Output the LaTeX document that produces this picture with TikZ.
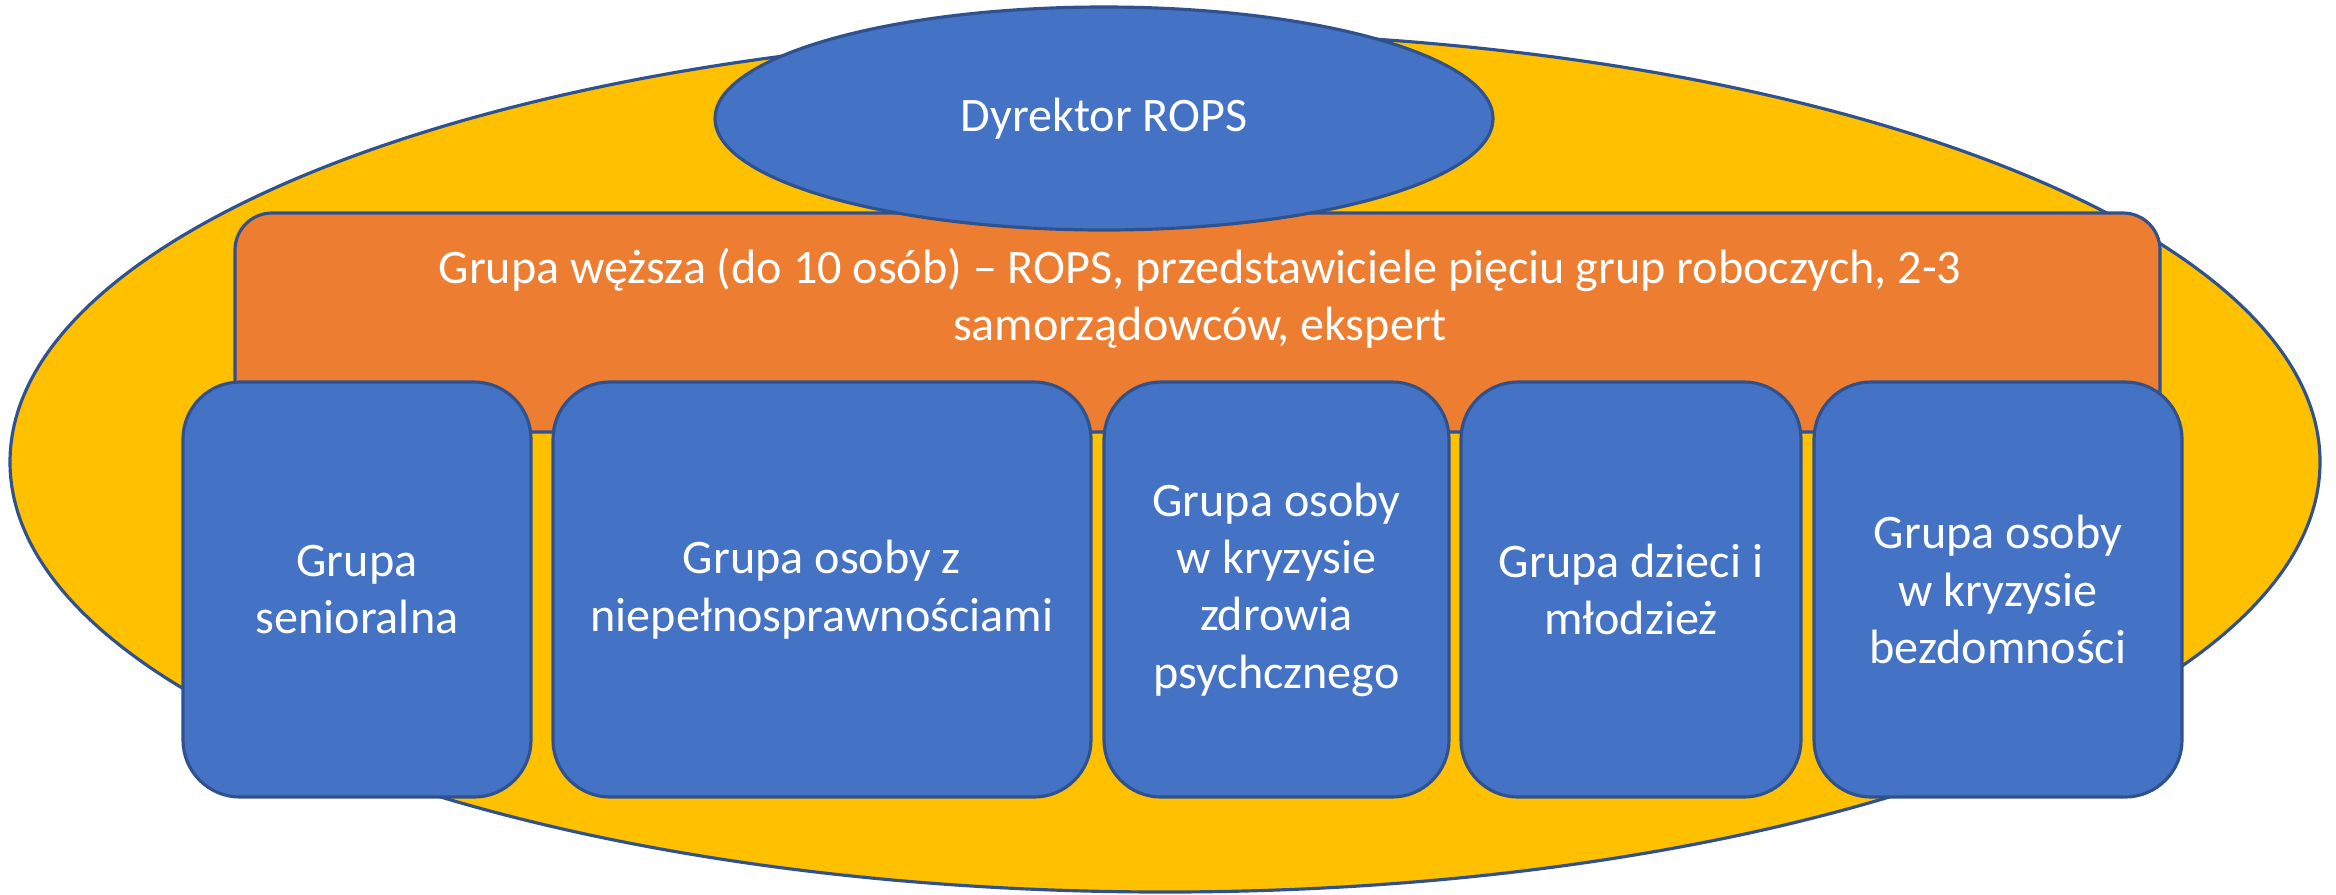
\documentclass[tikz,border=0pt]{standalone}
\usepackage{fontspec}
\setmainfont{Carlito}
\usetikzlibrary{shapes.geometric}

\definecolor{ropsyellow}{HTML}{FFC000}
\definecolor{ropsorange}{HTML}{ED7D31}
\definecolor{ropsblue}{HTML}{4472C4}
\definecolor{ropsline}{HTML}{2F528F}

\tikzstyle{every node}=[draw=ropsline, line width=0.9pt, text=white, align=center, inner sep=0pt,
  font=\fontsize{13.7}{16.3}\selectfont]
\tikzstyle{outer}=[ellipse, fill=ropsyellow, minimum width=23.1cm, minimum height=8.6cm]
\tikzstyle{head}=[ellipse, fill=ropsblue, minimum width=7.78cm, minimum height=2.23cm]
\tikzstyle{narrow}=[rectangle, rounded corners=0.37cm, fill=ropsorange, minimum width=19.25cm, minimum height=2.19cm]
\tikzstyle{workgroup}=[rectangle, rounded corners=0.57cm, fill=ropsblue, minimum height=4.15cm]
\tikzstyle{plain}=[draw=none, fill=none]

\begin{document}
\begin{tikzpicture}[x=1cm, y=-1cm]
    \useasboundingbox (0,0) rectangle (23.36,8.94);
    \node[outer] (big) at (11.65,4.62) {};
    \node[narrow] (n0) at (11.975,3.225) {};
    \node[plain] (n0txt) at (12.0,2.98) {Grupa węższa (do 10 osób) – ROPS, przedstawiciele pięciu grup roboczych, 2-3\\samorządowców, ekspert};
    \node[head] (dir) at (11.04,1.185) {Dyrektor ROPS};
    \node[workgroup, minimum width=3.48cm] (n1) at (3.57,5.895) {Grupa\\senioralna};
    \node[workgroup, minimum width=5.38cm] (n2) at (8.22,5.895) {Grupa osoby z\\niepełnosprawnościami};
    \node[workgroup, minimum width=3.45cm] (n3) at (12.765,5.895) {Grupa osoby\\w kryzysie\\zdrowia\\psychcznego};
    \node[workgroup, minimum width=3.40cm] (n4) at (16.31,5.895) {Grupa dzieci i\\młodzież};
    \node[workgroup, minimum width=3.68cm] (n5) at (19.98,5.895) {Grupa osoby\\w kryzysie\\bezdomności};
  \end{tikzpicture}
\end{document}
